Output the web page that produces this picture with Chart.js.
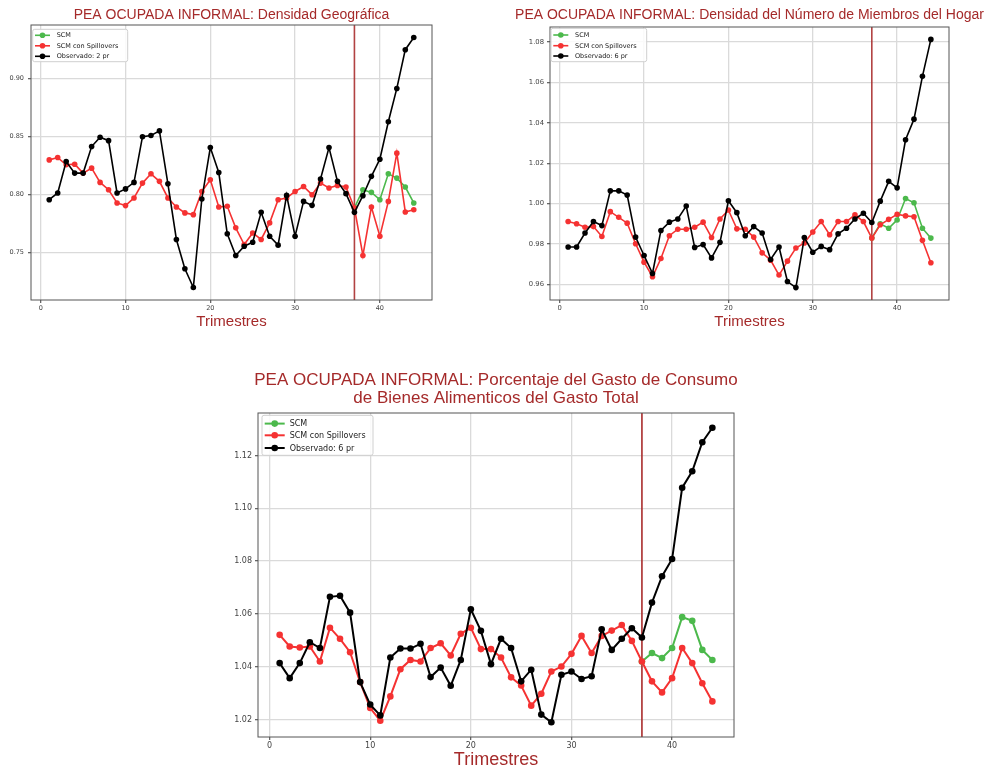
<!DOCTYPE html>
<html>
<head>
<meta charset="utf-8">
<script src="https://cdn.jsdelivr.net/npm/chart.js@4.4.1/dist/chart.umd.min.js"></script>
<style>
  body { margin: 0; background: #fff; width: 995px; height: 769px; overflow: hidden; position: relative; }
  canvas { position: absolute; }
  #geo { left: 0; top: 0; }
  #hogar { left: 510px; top: 0; }
  #gasto { left: 200px; top: 360px; }
</style>
</head>
<body>
<canvas id="geo" width="470" height="340"></canvas>
<canvas id="hogar" width="485" height="340"></canvas>
<canvas id="gasto" width="560" height="409"></canvas>
<script>
// quarters 1..44, treatment at quarter 37
const quarters = Array.from({ length: 44 }, (_, i) => i + 1);
const treatQuarter = 37;
const xTicks = [0, 10, 20, 30, 40];

// Densidad Geográfica
const obsGeo = [0.7957, 0.8015, 0.8286, 0.8186, 0.8186, 0.8415, 0.8495, 0.8466, 0.8015, 0.8050,
  0.8106, 0.8500, 0.8510, 0.8550, 0.8094, 0.7614, 0.7362, 0.7200, 0.7963, 0.8406,
  0.8191, 0.7663, 0.7476, 0.7556, 0.7590, 0.7848, 0.7642, 0.7565, 0.7994, 0.7642,
  0.7942, 0.7908, 0.8135, 0.8406, 0.8115, 0.8009, 0.7848, 0.7991, 0.8158, 0.8306,
  0.8629, 0.8916, 0.9250, 0.9355];
const spillGeo = [0.8300, 0.8320, 0.8258, 0.8263, 0.8186, 0.8229, 0.8106, 0.8043, 0.7929, 0.7906,
  0.7972, 0.8100, 0.8180, 0.8115, 0.7972, 0.7894, 0.7843, 0.7828, 0.8028, 0.8129,
  0.7894, 0.7900, 0.7714, 0.7570, 0.7670, 0.7614, 0.7757, 0.7957, 0.7972, 0.8028,
  0.8071, 0.8000, 0.8100, 0.8058, 0.8080, 0.8066, 0.7886, 0.7476, 0.7894, 0.7642,
  0.7942, 0.8358, 0.7851, 0.7870];
const scmGeo = [0.7886, 0.8043, 0.8020, 0.7957, 0.8180, 0.8143, 0.8066, 0.7929]; // from quarter 37
const yTicksGeo = [0.75, 0.80, 0.85, 0.90];

// Densidad del Número de Miembros del Hogar
const obsHogar = [0.9785, 0.9785, 0.9854, 0.9911, 0.9891, 1.0063, 1.0063, 1.0042, 0.9834, 0.9743,
  0.9654, 0.9867, 0.9908, 0.9924, 0.9988, 0.9783, 0.9797, 0.9731, 0.9808, 1.0014,
  0.9955, 0.9841, 0.9886, 0.9854, 0.9723, 0.9785, 0.9614, 0.9584, 0.9832, 0.9759,
  0.9788, 0.9772, 0.9850, 0.9878, 0.9924, 0.9952, 0.9906, 1.0012, 1.0110, 1.0078,
  1.0316, 1.0418, 1.0630, 1.0813];
const spillHogar = [0.9911, 0.9900, 0.9883, 0.9886, 0.9837, 0.9960, 0.9932, 0.9903, 0.9801, 0.9710,
  0.9638, 0.9728, 0.9841, 0.9873, 0.9873, 0.9883, 0.9908, 0.9832, 0.9924, 0.9968,
  0.9875, 0.9873, 0.9834, 0.9756, 0.9720, 0.9646, 0.9715, 0.9780, 0.9805, 0.9859,
  0.9911, 0.9846, 0.9911, 0.9911, 0.9944, 0.9911, 0.9829, 0.9895, 0.9922, 0.9947,
  0.9939, 0.9935, 0.9818, 0.9707];
const scmHogar = [0.9829, 0.9900, 0.9878, 0.9919, 1.0025, 1.0004, 0.9878, 0.9829];
const yTicksHogar = [0.96, 0.98, 1.00, 1.02, 1.04, 1.06, 1.08];

// Porcentaje del Gasto de Consumo de Bienes Alimenticos
const obsGasto = [1.0414, 1.0357, 1.0414, 1.0493, 1.0471, 1.0665, 1.0669, 1.0605, 1.0342, 1.0257,
  1.0216, 1.0435, 1.0469, 1.0469, 1.0487, 1.0361, 1.0397, 1.0328, 1.0426, 1.0618,
  1.0536, 1.0410, 1.0506, 1.0471, 1.0345, 1.0389, 1.0219, 1.0190, 1.0370, 1.0382,
  1.0354, 1.0364, 1.0542, 1.0464, 1.0506, 1.0546, 1.0511, 1.0643, 1.0743, 1.0808,
  1.1078, 1.1140, 1.1250, 1.1305];
const spillGasto = [1.0521, 1.0477, 1.0473, 1.0477, 1.0420, 1.0548, 1.0506, 1.0455, 1.0342, 1.0244,
  1.0196, 1.0288, 1.0391, 1.0426, 1.0420, 1.0471, 1.0489, 1.0443, 1.0525, 1.0548,
  1.0467, 1.0467, 1.0435, 1.0360, 1.0329, 1.0253, 1.0298, 1.0382, 1.0401, 1.0449,
  1.0517, 1.0452, 1.0517, 1.0537, 1.0558, 1.0498, 1.0420, 1.0345, 1.0303, 1.0357,
  1.0471, 1.0414, 1.0338, 1.0269];
const scmGasto = [1.0420, 1.0452, 1.0433, 1.0471, 1.0588, 1.0574, 1.0464, 1.0426];
const yTicksGasto = [1.02, 1.04, 1.06, 1.08, 1.10, 1.12];

const RED = 'rgb(245,50,50)';
const GREEN = 'rgb(76,185,76)';
const BLACK = '#000';
const TITLE_COLOR = '#a52a2a';

const pts = (vals, start) => vals.map((v, i) => ({ x: start + i, y: v }));

// matplotlib-like 5% margins
function padRange(vals) {
  const lo = Math.min(...vals), hi = Math.max(...vals);
  const m = 0.05 * (hi - lo);
  return [lo - m, hi + m];
}

const decor = {
  id: 'decor',
  beforeDatasetsDraw(chart, args, o) {
    const { ctx, chartArea: a, scales: { x } } = chart;
    const px = x.getPixelForValue(treatQuarter);
    ctx.save();
    ctx.strokeStyle = 'rgba(170,45,45,0.9)';
    ctx.lineWidth = o.vline;
    ctx.beginPath();
    ctx.moveTo(px, a.top);
    ctx.lineTo(px, a.bottom);
    ctx.stroke();
    ctx.restore();
  },
  afterDraw(chart, args, o) {
    const { ctx, chartArea: a } = chart;
    ctx.save();
    ctx.strokeStyle = '#555';
    ctx.lineWidth = 1;
    ctx.strokeRect(a.left, a.top, a.width, a.height);

    ctx.fillStyle = TITLE_COLOR;
    ctx.font = o.titleSize + 'px "Liberation Sans", Arial, sans-serif';
    ctx.textAlign = 'center';
    ctx.textBaseline = 'middle';
    o.titleLines.forEach((t, i) => ctx.fillText(t, (a.left + a.right) / 2, o.titleY[i]));

    const L = o.legend;
    const bx = a.left + L.x, by = a.top + L.y;
    ctx.fillStyle = 'rgba(255,255,255,0.85)';
    ctx.strokeStyle = '#cfcfcf';
    ctx.lineWidth = 1;
    ctx.beginPath();
    if (ctx.roundRect) ctx.roundRect(bx, by, L.w, L.h, 2); else ctx.rect(bx, by, L.w, L.h);
    ctx.fill();
    ctx.stroke();
    ctx.font = L.font + 'px "DejaVu Sans", sans-serif';
    ctx.textAlign = 'left';
    chart.data.datasets.forEach((ds, i) => {
      const yy = by + L.rows[i];
      ctx.strokeStyle = ds.borderColor;
      ctx.lineWidth = ds.borderWidth;
      ctx.beginPath();
      ctx.moveTo(bx + L.l0, yy);
      ctx.lineTo(bx + L.l1, yy);
      ctx.stroke();
      ctx.fillStyle = ds.borderColor;
      ctx.beginPath();
      ctx.arc(bx + (L.l0 + L.l1) / 2, yy, ds.pointRadius, 0, Math.PI * 2);
      ctx.fill();
      ctx.fillStyle = '#222';
      ctx.fillText(ds.label, bx + L.tx, yy + 0.5);
    });
    ctx.restore();
  }
};

function makeChart(id, c) {
  const [yMin, yMax] = padRange([...c.obs, ...c.spill, ...c.scm]);
  const [xMin, xMax] = padRange(quarters);
  const line = (label, data, color, order) => ({
    label, data, order,
    borderColor: color, backgroundColor: color,
    pointBackgroundColor: color, pointBorderColor: color,
    borderWidth: c.lw, pointRadius: c.pr, pointBorderWidth: 0,
    tension: 0
  });
  const tickFont = { family: '"DejaVu Sans", sans-serif', size: c.tickFs };
  const gridStyle = { color: '#dadada', lineWidth: 1.3, tickLength: 3, tickColor: '#666' };
  return new Chart(document.getElementById(id), {
    type: 'line',
    data: {
      datasets: [
        line('SCM', pts(c.scm, treatQuarter), GREEN, 3),
        line('SCM con Spillovers', pts(c.spill, 1), RED, 2),
        line(c.obsLabel, pts(c.obs, 1), BLACK, 1)
      ]
    },
    options: {
      responsive: false,
      animation: false,
      layout: { padding: c.pad },
      scales: {
        x: {
          type: 'linear', min: xMin, max: xMax,
          afterBuildTicks: s => { s.ticks = xTicks.map(v => ({ value: v })); },
          afterFit: s => { s.height = c.xH; },
          grid: gridStyle,
          border: { display: false },
          ticks: { font: tickFont, color: '#444', padding: 1, maxRotation: 0 },
          title: {
            display: true, text: 'Trimestres', color: TITLE_COLOR,
            font: { family: '"Liberation Sans", Arial, sans-serif', size: c.axisFs, lineHeight: 1 },
            padding: { top: 0, bottom: c.axisPad }
          }
        },
        y: {
          min: yMin, max: yMax,
          afterBuildTicks: s => { s.ticks = c.yTicks.map(v => ({ value: v })); },
          afterFit: s => { s.width = c.yW; },
          grid: gridStyle,
          border: { display: false },
          ticks: { font: tickFont, color: '#444', padding: c.yPad, callback: v => v.toFixed(2) }
        }
      },
      plugins: {
        legend: { display: false },
        tooltip: { enabled: false },
        decor: {
          vline: c.vline,
          titleLines: c.titleLines, titleSize: c.titleSize, titleY: c.titleY,
          legend: c.legend
        }
      }
    },
    plugins: [decor]
  });
}

const smallLegend = { x: 1.7, y: 4.3, w: 95, h: 32.4, rows: [6, 16.5, 27], l0: 2.3, l1: 17.3, tx: 24, font: 6.5 };

makeChart('geo', {
  obs: obsGeo, spill: spillGeo, scm: scmGeo, yTicks: yTicksGeo, obsLabel: 'Observado: 2 pr',
  pad: { top: 25, right: 38, bottom: 8, left: 0 }, yW: 31, xH: 32, yPad: 4,
  tickFs: 6.5, axisFs: 15, axisPad: 2.5, lw: 1.6, pr: 2.8, vline: 1.6,
  titleLines: ['PEA OCUPADA INFORMAL: Densidad Geográfica'], titleSize: 14, titleY: [15],
  legend: smallLegend
});

makeChart('hogar', {
  obs: obsHogar, spill: spillHogar, scm: scmHogar, yTicks: yTicksHogar, obsLabel: 'Observado: 6 pr',
  pad: { top: 27, right: 46, bottom: 8, left: 0 }, yW: 40, xH: 32, yPad: 3,
  tickFs: 6.8, axisFs: 15, axisPad: 2.5, lw: 1.6, pr: 2.8, vline: 1.6,
  titleLines: ['PEA OCUPADA INFORMAL: Densidad del Número de Miembros del Hogar'], titleSize: 14, titleY: [15],
  legend: { x: 1, y: 1.3, w: 95.7, h: 33.4, rows: [6.7, 17.4, 27.7], l0: 2.3, l1: 17.3, tx: 24, font: 6.5 }
});

makeChart('gasto', {
  obs: obsGasto, spill: spillGasto, scm: scmGasto, yTicks: yTicksGasto, obsLabel: 'Observado: 6 pr',
  pad: { top: 53, right: 26, bottom: 0, left: 0 }, yW: 58, xH: 32, yPad: 3,
  tickFs: 8, axisFs: 18, axisPad: 0, lw: 2, pr: 3.3, vline: 1.8,
  titleLines: ['PEA OCUPADA INFORMAL: Porcentaje del Gasto de Consumo', 'de Bienes Alimenticos del Gasto Total'],
  titleSize: 17, titleY: [20.7, 38.3],
  legend: { x: 4, y: 2.3, w: 111, h: 40, rows: [8.3, 20, 32.7], l0: 2.7, l1: 22.7, tx: 27.7, font: 8 }
});
</script>
</body>
</html>
